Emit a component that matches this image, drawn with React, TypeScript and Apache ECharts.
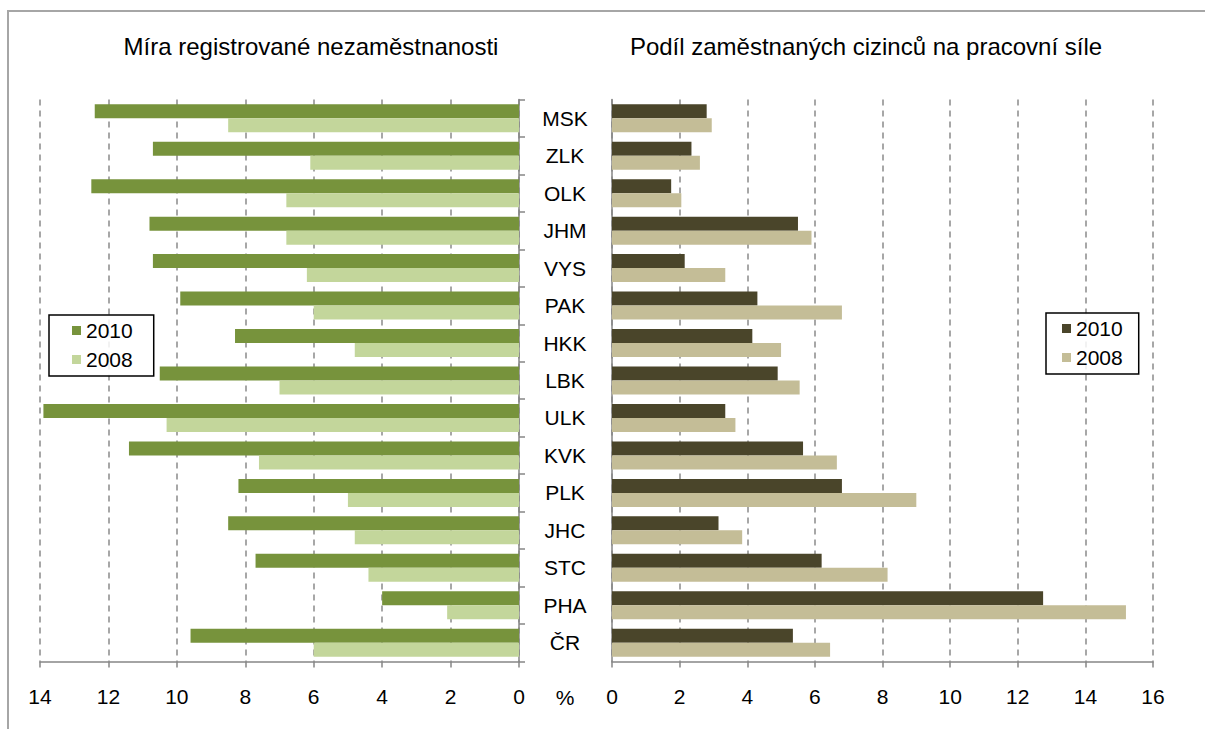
import React, { useEffect, useRef } from "react";
import * as echarts from "echarts";

const categories = ["MSK", "ZLK", "OLK", "JHM", "VYS", "PAK", "HKK", "LBK", "ULK", "KVK", "PLK", "JHC", "STC", "PHA", "ČR"];
const unemp2010 = [12.4, 10.7, 12.5, 10.8, 10.7, 9.9, 8.3, 10.5, 13.9, 11.4, 8.2, 8.5, 7.7, 4.0, 9.6];
const unemp2008 = [8.5, 6.1, 6.8, 6.8, 6.2, 6.0, 4.8, 7.0, 10.3, 7.6, 5.0, 4.8, 4.4, 2.1, 6.0];
const foreign2010 = [2.8, 2.35, 1.75, 5.5, 2.15, 4.3, 4.15, 4.9, 3.35, 5.65, 6.8, 3.15, 6.2, 12.75, 5.35];
const foreign2008 = [2.95, 2.6, 2.05, 5.9, 3.35, 6.8, 5.0, 5.55, 3.65, 6.65, 9.0, 3.85, 8.15, 15.2, 6.45];

const leftTitle = "Míra registrované nezaměstnanosti";
const rightTitle = "Podíl zaměstnaných cizinců na pracovní síle";
const unitLabel = "%";

const FONT = "'Liberation Sans', Arial, sans-serif";
const AXIS_COLOR = "#868686";
const TEXT_COLOR = "#000";

export default function App() {
  const ref = useRef<HTMLDivElement>(null);

  useEffect(() => {
    if (!ref.current) return;
    const chart = echarts.init(ref.current, undefined, { renderer: "svg" });

    const gridTop = 99.5;
    const gridBottom = 729 - 661.5;

    const splitLine = {
      show: true,
      lineStyle: { color: "#8a8a8a", width: 1.5, type: [6, 5] as any },
    };
    const axisLabelStyle = { fontFamily: FONT, fontSize: 21, color: TEXT_COLOR };

    const option: any = {
      animation: false,
      backgroundColor: "#fff",
      textStyle: { fontFamily: FONT },
      graphic: [
        {
          type: "rect",
          shape: { x: 8, y: 11, width: 1400, height: 900 },
          style: { fill: "none", stroke: "#a6a6a6", lineWidth: 2 },
          silent: true,
          z: -1,
        },
        {
          type: "text",
          x: 311,
          y: 46,
          style: { text: leftTitle, fontFamily: FONT, fontSize: 24, fill: TEXT_COLOR, align: "center", verticalAlign: "middle" },
        },
        {
          type: "text",
          x: 866,
          y: 46,
          style: { text: rightTitle, fontFamily: FONT, fontSize: 24, fill: TEXT_COLOR, align: "center", verticalAlign: "middle" },
        },
        {
          type: "text",
          x: 565,
          y: 697,
          style: { text: unitLabel, fontFamily: FONT, fontSize: 21, fill: TEXT_COLOR, align: "center", verticalAlign: "middle" },
        },
      ],
      legend: [
        {
          left: 49,
          top: 315,
          orient: "vertical",
          data: ["2010 L", "2008 L"],
          formatter: (n: string) => n.slice(0, 4),
          icon: "rect",
          itemWidth: 9,
          itemHeight: 9,
          itemGap: 8,
          padding: [5, 21, 6, 23],
          borderColor: "#000",
          borderWidth: 1.5,
          backgroundColor: "rgba(255,255,255,0.85)",
          textStyle: { fontFamily: FONT, fontSize: 21, color: TEXT_COLOR },
          selectedMode: false,
        },
        {
          left: 1046,
          top: 313,
          orient: "vertical",
          data: ["2010 R", "2008 R"],
          formatter: (n: string) => n.slice(0, 4),
          icon: "rect",
          itemWidth: 9,
          itemHeight: 9,
          itemGap: 8,
          padding: [5, 16, 6, 16],
          borderColor: "#000",
          borderWidth: 1.5,
          backgroundColor: "rgba(255,255,255,0.85)",
          textStyle: { fontFamily: FONT, fontSize: 21, color: TEXT_COLOR },
          selectedMode: false,
        },
      ],
      grid: [
        { left: 40, right: 1205 - 519, top: gridTop, bottom: gridBottom, containLabel: false },
        { left: 612, right: 1205 - 1153, top: gridTop, bottom: gridBottom, containLabel: false },
      ],
      xAxis: [
        {
          gridIndex: 0,
          type: "value",
          inverse: true,
          min: 0,
          max: 14,
          interval: 2,
          axisLine: { show: true, lineStyle: { color: AXIS_COLOR, width: 1.5 } },
          axisTick: { show: true, length: 6, lineStyle: { color: AXIS_COLOR, width: 1.5 } },
          axisLabel: { ...axisLabelStyle, margin: 24 },
          splitLine,
        },
        {
          gridIndex: 1,
          type: "value",
          min: 0,
          max: 16,
          interval: 2,
          axisLine: { show: true, lineStyle: { color: AXIS_COLOR, width: 1.5 } },
          axisTick: { show: true, length: 6, lineStyle: { color: AXIS_COLOR, width: 1.5 } },
          axisLabel: { ...axisLabelStyle, margin: 24 },
          splitLine,
        },
      ],
      yAxis: [
        {
          gridIndex: 0,
          type: "category",
          data: categories,
          inverse: true,
          position: "right",
          axisLine: { show: true, lineStyle: { color: AXIS_COLOR, width: 1.5 } },
          axisTick: { show: true, length: 6, lineStyle: { color: AXIS_COLOR, width: 1.5 } },
          axisLabel: { ...axisLabelStyle, align: "center", margin: 46 },
          splitLine: { show: false },
        },
        {
          gridIndex: 1,
          type: "category",
          data: categories,
          inverse: true,
          position: "left",
          axisLine: { show: true, lineStyle: { color: AXIS_COLOR, width: 1.5 } },
          axisTick: { show: false },
          axisLabel: { show: false },
          splitLine: { show: false },
        },
      ],
      series: [
        {
          name: "2010 L",
          type: "bar",
          xAxisIndex: 0,
          yAxisIndex: 0,
          data: unemp2010,
          barWidth: 14,
          barGap: "0%",
          itemStyle: { color: "#77933c" },
        },
        {
          name: "2008 L",
          type: "bar",
          xAxisIndex: 0,
          yAxisIndex: 0,
          data: unemp2008,
          barWidth: 14,
          barGap: "0%",
          itemStyle: { color: "#c3d69b" },
        },
        {
          name: "2010 R",
          type: "bar",
          xAxisIndex: 1,
          yAxisIndex: 1,
          data: foreign2010,
          barWidth: 14,
          barGap: "0%",
          itemStyle: { color: "#4a452a" },
        },
        {
          name: "2008 R",
          type: "bar",
          xAxisIndex: 1,
          yAxisIndex: 1,
          data: foreign2008,
          barWidth: 14,
          barGap: "0%",
          itemStyle: { color: "#c4bd97" },
        },
      ],
    };

    chart.setOption(option);
    return () => chart.dispose();
  }, []);

  return (
    <div
      ref={ref}
      style={{ position: "fixed", left: 0, top: 0, width: 1205, height: 729, background: "#fff" }}
    />
  );
}
